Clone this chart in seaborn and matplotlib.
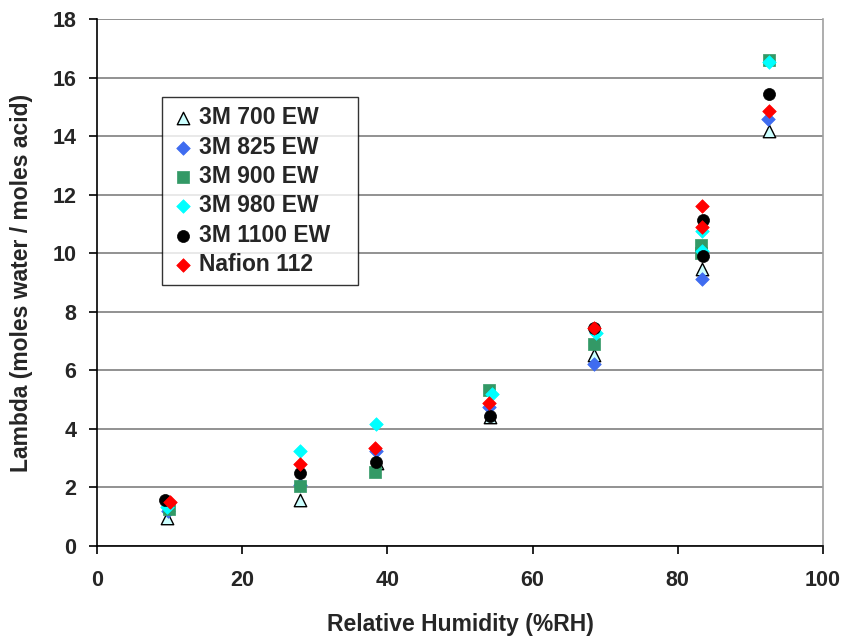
import matplotlib
matplotlib.use("Agg")
import matplotlib.pyplot as plt
import seaborn as sns
import pandas as pd

series_names = ["3M 700 EW", "3M 825 EW", "3M 900 EW", "3M 980 EW", "3M 1100 EW", "Nafion 112"]

rh_700 = [9.6, 27.9, 38.5, 54.1, 68.5, 83.3, 92.5]
lam_700 = [0.97, 1.57, 2.85, 4.40, 6.52, 9.45, 14.18]

rh_825 = [9.8, 27.9, 38.4, 54.0, 68.5, 83.3, 92.4]
lam_825 = [1.20, 2.10, 3.25, 4.74, 6.20, 9.12, 14.58]

rh_900 = [9.9, 27.9, 38.3, 54.0, 68.4, 83.2, 83.2, 92.5]
lam_900 = [1.26, 2.05, 2.54, 5.33, 6.89, 10.27, 10.00, 16.60]

rh_980 = [9.6, 28.0, 38.4, 54.4, 68.8, 83.4, 83.4, 92.5]
lam_980 = [1.34, 3.25, 4.17, 5.19, 7.26, 10.77, 10.09, 16.54]

rh_1100 = [9.4, 27.9, 38.4, 54.1, 68.5, 83.5, 83.5, 92.5]
lam_1100 = [1.57, 2.50, 2.88, 4.44, 7.45, 11.13, 9.90, 15.44]

rh_naf = [10.0, 27.9, 38.3, 54.0, 68.5, 83.3, 83.3, 92.6]
lam_naf = [1.51, 2.80, 3.34, 4.87, 7.43, 11.61, 10.90, 14.87]

all_rh = [rh_700, rh_825, rh_900, rh_980, rh_1100, rh_naf]
all_lam = [lam_700, lam_825, lam_900, lam_980, lam_1100, lam_naf]

rows = []
for name, xs, ys in zip(series_names, all_rh, all_lam):
    for x, y in zip(xs, ys):
        rows.append({"RH": x, "Lambda": y, "Series": name})
df = pd.DataFrame(rows)

colors = {"3M 700 EW": "#ccffff", "3M 825 EW": "#3f6cf0", "3M 900 EW": "#339966",
          "3M 980 EW": "#00ffff", "3M 1100 EW": "#000000", "Nafion 112": "#ff0000"}
markers = {"3M 700 EW": "^", "3M 825 EW": "D", "3M 900 EW": "s",
           "3M 980 EW": "D", "3M 1100 EW": "o", "Nafion 112": "D"}
sizes = {"3M 700 EW": 80, "3M 825 EW": 48, "3M 900 EW": 70,
         "3M 980 EW": 48, "3M 1100 EW": 75, "Nafion 112": 48}

sns.set_style("white")
plt.rcParams["font.family"] = ["Liberation Sans", "DejaVu Sans"]
plt.rcParams["font.weight"] = "bold"

fig = plt.figure(figsize=(8.44, 6.39), dpi=100)
ax = fig.add_axes([97/844, 1-546/639, (823-97)/844, (546-19)/639])

for name in series_names:
    sub = df[df["Series"] == name]
    edge = "black" if name == "3M 700 EW" else colors[name]
    sns.scatterplot(data=sub, x="RH", y="Lambda", ax=ax, color=colors[name],
                    marker=markers[name], s=sizes[name], edgecolor=edge,
                    linewidth=1.0 if name == "3M 700 EW" else 0.5,
                    label=name, zorder=3, clip_on=False)

ax.set_xlim(0, 100)
ax.set_ylim(0, 18)
ax.set_xticks(range(0, 101, 20))
ax.set_yticks(range(0, 19, 2))
ax.yaxis.grid(True, color="#7f7f7f", linewidth=1.2)
ax.xaxis.grid(False)
ax.set_axisbelow(True)

for s in ["left", "bottom"]:
    ax.spines[s].set_color("black")
    ax.spines[s].set_linewidth(1.2)
ax.spines["top"].set_visible(False)
ax.spines["right"].set_color("#a0a0a0")
ax.spines["right"].set_linewidth(1.2)

ax.tick_params(axis="both", which="both", direction="out", length=6, width=1.2,
               color="black", labelsize=15.5)
ax.tick_params(axis="y", left=True, pad=9)
ax.tick_params(axis="x", bottom=True, pad=11)
for lab in ax.get_xticklabels() + ax.get_yticklabels():
    lab.set_fontweight("bold")

ax.set_xlabel("Relative Humidity (%RH)", fontsize=16.5, fontweight="bold", labelpad=16)
ax.set_ylabel("Lambda (moles water / moles acid)", fontsize=16.5, fontweight="bold", labelpad=14)

x0 = (162 - 97) / 726
w = (358 - 162) / 726
y1 = 1 - (97 - 19) / 527
leg = ax.legend(loc="upper left", bbox_to_anchor=(x0, y1 - 0.3, w, 0.3), mode="expand",
                frameon=True, fancybox=False, edgecolor="black", fontsize=16.5,
                handletextpad=0.2, labelspacing=0.28, borderpad=0.4, handlelength=1.0,
                borderaxespad=0)
leg.get_frame().set_linewidth(1.0)
for t in leg.get_texts():
    t.set_fontweight("bold")

fig.savefig("out.png", dpi=100)
